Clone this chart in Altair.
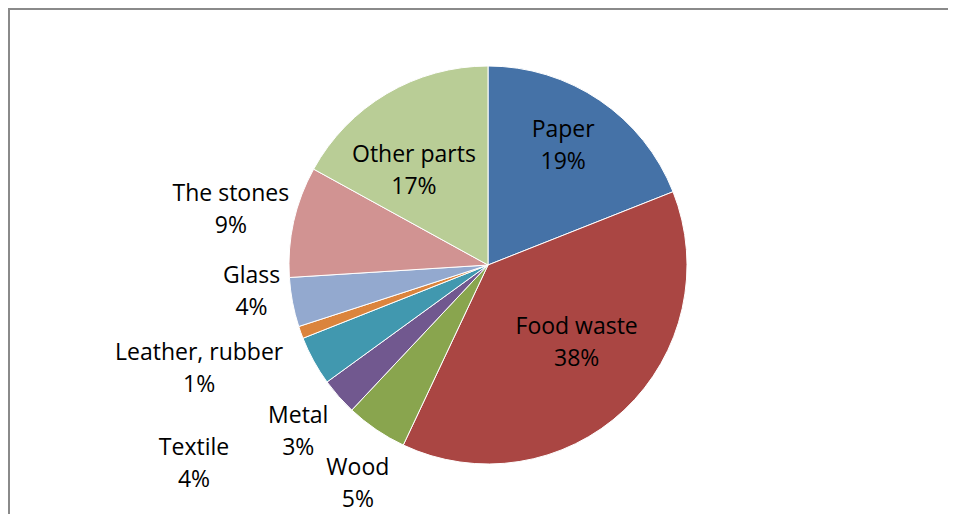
import altair as alt
import pandas as pd

categories = ["Paper", "Food waste", "Wood", "Metal", "Textile",
              "Leather, rubber", "Glass", "The stones", "Other parts"]
percents = [19, 38, 5, 3, 4, 1, 4, 9, 17]
colors = ["#4572A7", "#AA4643", "#89A54E", "#71588F", "#4198AF",
          "#DB843D", "#93A9CF", "#D19392", "#B9CD96"]

# layout of labels: (radius px, angle adjustment in degrees)
LABEL_LAYOUT = {
    "Paper": (141, -2), "Food waste": (118, -5.5), "Wood": (255, -3.5),
    "Metal": (253, 0), "Textile": (355, -5.3), "Leather, rubber": (307, 0),
    "Glass": (238, 4.3), "The stones": (263, -0.5), "Other parts": (120, -7.5),
}
CX, CY, R = 480, 257, 199
LINE_H = 32

df = pd.DataFrame({
    "idx": list(range(len(categories))),
    "cat": categories,
    "pct": percents,
})
df["label"] = [f"{c}\n{p}%" for c, p in zip(categories, percents)]
df["lr"] = [LABEL_LAYOUT[c][0] for c in categories]
df["da"] = [LABEL_LAYOUT[c][1] for c in categories]

color_scale = alt.Scale(domain=categories, range=colors)

base = alt.Chart(df)

pie = base.mark_arc(radius=R, stroke="white", strokeWidth=1).encode(
    theta=alt.Theta("pct:Q", stack=True),
    order=alt.Order("idx:Q"),
    color=alt.Color("cat:N", scale=color_scale, legend=None, sort=None),
    x=alt.value(CX),
    y=alt.value(CY),
)

labels = base.transform_window(
    cum="sum(pct)", sort=[alt.SortField("idx")], frame=[None, 0]
).transform_joinaggregate(
    total="sum(pct)"
).transform_calculate(
    ang="((datum.cum - datum.pct/2) / datum.total) * 2 * PI + datum.da * PI / 180"
).transform_calculate(
    lx=f"{CX} + datum.lr * sin(datum.ang)",
    ly=f"{CY} - datum.lr * cos(datum.ang)",
).mark_text(
    font="Open Sans", fontSize=23, lineBreak="\n", lineHeight=LINE_H,
    color="black", align="center", baseline="middle", dy=-LINE_H / 2,
).encode(
    x=alt.X("lx:Q", scale=None, axis=None),
    y=alt.Y("ly:Q", scale=None, axis=None),
    text="label:N",
)

border_left = base.mark_rect(color="#8a8a8a", strokeWidth=0).encode(
    x=alt.value(0), x2=alt.value(2), y=alt.value(0), y2=alt.value(506)
).transform_filter("datum.idx == 0")
border_top = base.mark_rect(color="#8a8a8a", strokeWidth=0).encode(
    x=alt.value(0), x2=alt.value(940), y=alt.value(0), y2=alt.value(2)
).transform_filter("datum.idx == 0")

chart = alt.layer(pie, labels, border_left, border_top).properties(
    width=943, height=506,
    autosize=alt.AutoSizeParams(type="none"),
    padding=0,
).configure_view(strokeWidth=0, stroke="transparent")

chart.save("out.html", embed_options={"renderer": "svg", "actions": False})
